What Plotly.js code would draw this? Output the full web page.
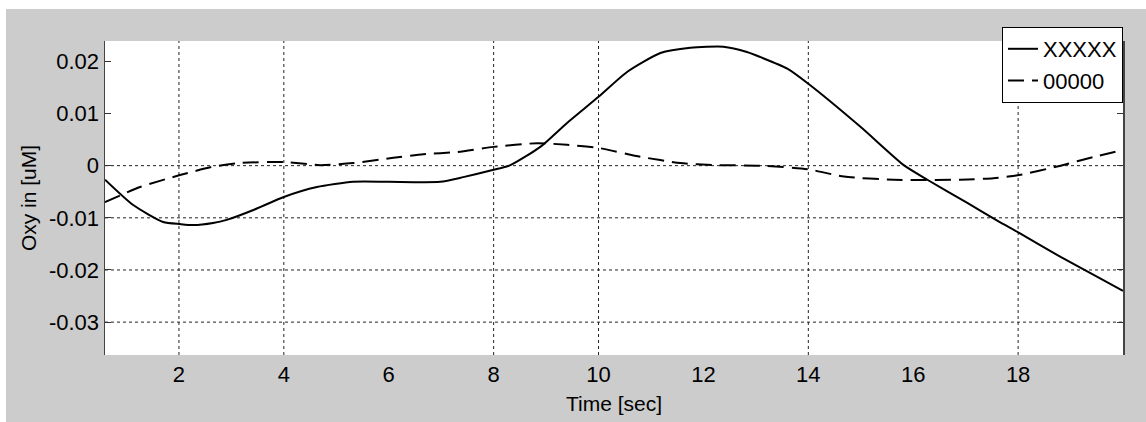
<!DOCTYPE html>
<html>
<head>
<meta charset="utf-8">
<script src="https://cdn.plot.ly/plotly-3.0.1.min.js"></script>
<style>
  html, body { margin: 0; padding: 0; background: #ffffff; }
  #chart { position: absolute; left: 6px; top: 9px; width: 1140px; height: 413px; }
</style>
</head>
<body>
<div id="chart"></div>
<script>
// Series 1 (solid, "XXXXX")
const timeSolid = [0.59, 1.12, 1.70, 2.02, 2.27, 2.65, 2.91, 3.42, 4.0, 4.63, 5.32, 6.0, 6.98, 7.42, 8.0, 8.32, 8.89, 9.4, 10.0, 10.55, 11.18, 11.75, 12.38, 12.83, 13.09, 13.6, 14.0, 15.0, 15.82, 16.27, 17.04, 17.61, 18.02, 18.81, 19.45, 20.0];
const oxySolid = [-0.0027, -0.0075, -0.0108, -0.0112, -0.0114, -0.0110, -0.0104, -0.0085, -0.0060, -0.0041, -0.0031, -0.0031, -0.0031, -0.0022, -0.0008, 0.0001, 0.0036, 0.0082, 0.0132, 0.0180, 0.0216, 0.0226, 0.0228, 0.0218, 0.0208, 0.0186, 0.0157, 0.0074, 0.0001, -0.0027, -0.0072, -0.0106, -0.0129, -0.0175, -0.0210, -0.0240];

// Series 2 (dashed, "00000")
const timeDashed = [0.59, 1.26, 2.02, 2.65, 3.16, 4.0, 4.69, 5.32, 6.09, 6.66, 7.3, 8.0, 8.83, 9.4, 10.0, 10.8, 11.56, 12.2, 13.09, 14.0, 14.68, 15.63, 16.9, 17.53, 18.02, 18.81, 19.45, 20.0];
const oxyDashed = [-0.0070, -0.0041, -0.0018, -0.0002, 0.0005, 0.0007, 0.0001, 0.0005, 0.0015, 0.0022, 0.0026, 0.0036, 0.0043, 0.0040, 0.0034, 0.0017, 0.0005, 0.0001, 0.0000, -0.0007, -0.0021, -0.0027, -0.0027, -0.0024, -0.0018, 0.0000, 0.0017, 0.0030];

const seriesNames = ["XXXXX", "00000"];

// Axis ticks
const xTickVals = [2, 4, 6, 8, 10, 12, 14, 16, 18];
const xTickText = ["2", "4", "6", "8", "10", "12", "14", "16", "18"];
const yTickVals = [0.02, 0.01, 0, -0.01, -0.02, -0.03];
const yTickText = ["0.02", "0.01", "0", "-0.01", "-0.02", "-0.03"];

// Visible grid lines (as in the reference)
const xGridVals = [2, 4, 8, 10, 14, 18];
const yGridVals = [0, -0.01, -0.02, -0.03];

const gridStyle = { color: '#222222', width: 1, dash: '3px,3px' };
const shapes = [];
xGridVals.forEach(v => shapes.push({ type: 'line', xref: 'x', yref: 'paper', x0: v, x1: v, y0: 0, y1: 1, line: gridStyle, layer: 'below' }));
yGridVals.forEach(v => shapes.push({ type: 'line', xref: 'paper', yref: 'y', x0: 0, x1: 1, y0: v, y1: v, line: gridStyle, layer: 'below' }));

const font = { family: 'Liberation Sans, Arial, sans-serif', size: 22, color: '#000000' };
const titleFont = { family: 'Liberation Sans, Arial, sans-serif', size: 21, color: '#000000' };

const traces = [
  { x: timeSolid, y: oxySolid, name: seriesNames[0], type: 'scatter', mode: 'lines',
    line: { color: '#000000', width: 2, shape: 'spline', smoothing: 0.6 } },
  { x: timeDashed, y: oxyDashed, name: seriesNames[1], type: 'scatter', mode: 'lines',
    line: { color: '#000000', width: 2, dash: '16px,8px', shape: 'spline', smoothing: 0.6 } }
];

const layout = {
  width: 1140, height: 413,
  paper_bgcolor: '#cccccc', plot_bgcolor: '#ffffff',
  font: font,
  margin: { l: 99, r: 23, t: 32, b: 67 },
  showlegend: true,
  legend: { x: 1, xanchor: 'right', y: 1.0446, yanchor: 'top', bgcolor: '#ffffff', bordercolor: '#000000', borderwidth: 1, font: font, tracegroupgap: 0 },
  xaxis: {
    range: [0.59, 20.0], tickvals: xTickVals, ticktext: xTickText,
    showgrid: false, zeroline: false, showline: false,
    ticks: '', tickfont: font, ticklabelstandoff: 4,
    title: { text: 'Time [sec]', font: titleFont, standoff: 10 },
    automargin: false
  },
  yaxis: {
    range: [-0.0363, 0.0239], tickvals: yTickVals, ticktext: yTickText,
    showgrid: false, zeroline: false, showline: true, linecolor: '#444444', linewidth: 1.5, mirror: 'ticks',
    ticks: 'inside', ticklen: 6, tickcolor: '#333333', tickfont: font,
    title: { text: 'Oxy in [uM]', font: titleFont, standoff: 6 },
    automargin: false
  },
  shapes: shapes
};

Plotly.newPlot('chart', traces, layout, { displayModeBar: false, staticPlot: true });
</script>
</body>
</html>
